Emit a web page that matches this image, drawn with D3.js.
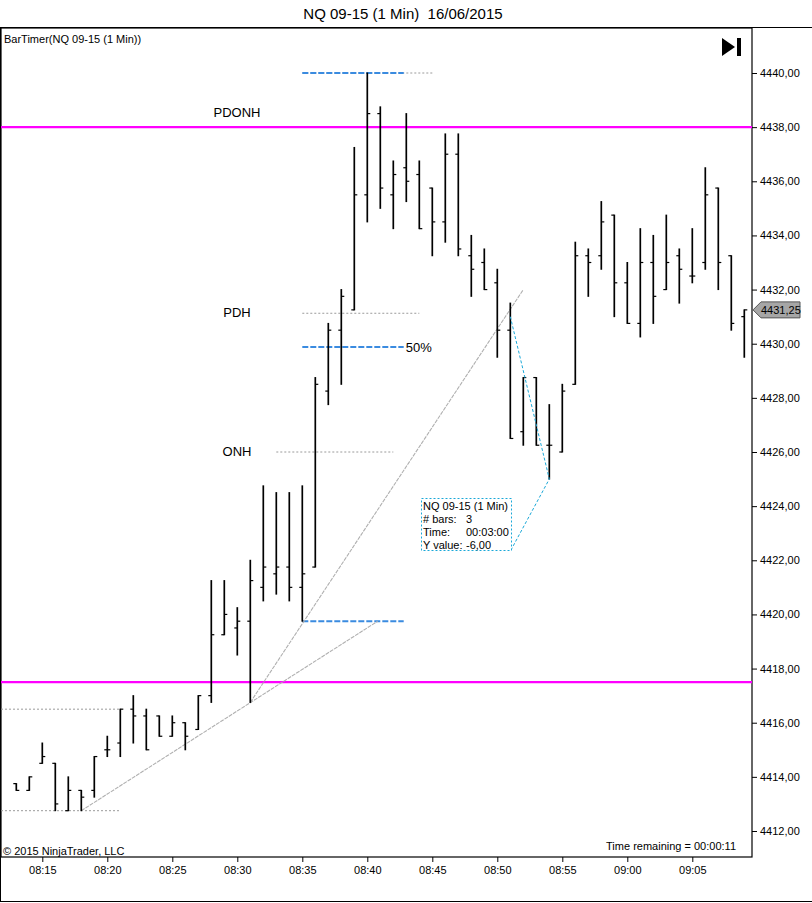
<!DOCTYPE html>
<html>
<head>
<meta charset="utf-8">
<script src="https://cdn.jsdelivr.net/npm/d3@7"></script>
<style>
  body { margin: 0; background: #fff; }
  svg { display: block; font-family: "Liberation Sans", Arial, sans-serif; }
</style>
</head>
<body>
<svg id="chart" width="812" height="903"></svg>
<script>
"use strict";

// one-minute bars, 08:13 .. 09:09
var times = ["08:13","08:14","08:15","08:16","08:17","08:18","08:19","08:20","08:21","08:22",
             "08:23","08:24","08:25","08:26","08:27","08:28","08:29","08:30","08:31","08:32",
             "08:33","08:34","08:35","08:36","08:37","08:38","08:39","08:40","08:41","08:42",
             "08:43","08:44","08:45","08:46","08:47","08:48","08:49","08:50","08:51","08:52",
             "08:53","08:54","08:55","08:56","08:57","08:58","08:59","09:00","09:01","09:02",
             "09:03","09:04","09:05","09:06","09:07","09:08","09:09"];
var opens  = [4413.75,4413.5,4414.5,4414.5,4412.75,4413.5,4413.5,4415.0,4415.25,4416.5,
              4416.25,4416.25,4415.5,4416.0,4415.75,4417.0,4419.25,4419.5,4419.75,4421.0,
              4421.5,4421.75,4421.0,4421.75,4428.25,4430.5,4431.25,4435.5,4438.5,4435.5,
              4436.5,4436.25,4435.75,4434.5,4437.0,4433.25,4433.0,4432.25,4430.5,4426.75,
              4428.75,4426.25,4426.0,4428.5,4433.25,4433.25,4434.75,4432.25,4430.75,4433.0,
              4432.0,4433.25,4432.5,4433.0,4435.75,4433.25,4431.0];
var highs  = [4413.75,4414.0,4415.25,4414.5,4414.0,4413.5,4414.75,4415.5,4416.5,4417.0,
              4416.5,4416.25,4416.25,4416.0,4417.0,4421.25,4421.25,4420.25,4422.0,4424.75,
              4424.5,4424.5,4424.75,4428.75,4430.75,4432.0,4437.25,4440.0,4438.75,4436.75,
              4438.5,4436.75,4435.75,4437.75,4437.75,4434.0,4433.5,4432.75,4431.5,4428.75,
              4428.75,4427.75,4428.5,4433.75,4433.5,4435.25,4434.75,4433.0,4434.25,4434.0,
              4434.75,4433.5,4434.25,4436.5,4435.75,4433.25,4431.25];
var lows   = [4413.5,4413.5,4414.5,4412.75,4412.75,4412.75,4413.25,4414.75,4414.75,4415.25,
              4415.0,4415.5,4415.5,4415.0,4415.75,4416.75,4419.25,4418.5,4416.75,4420.5,
              4420.75,4420.5,4419.75,4421.75,4427.75,4428.5,4431.25,4434.5,4435.0,4434.25,
              4435.25,4434.25,4433.25,4433.75,4433.25,4431.75,4432.0,4429.5,4426.5,4426.25,
              4426.25,4425.0,4426.0,4428.5,4431.75,4432.75,4431.0,4430.75,4430.25,4430.75,
              4432.0,4431.5,4432.25,4432.75,4432.0,4430.5,4429.5];
var closes = [4413.5,4414.0,4414.75,4413.0,4413.5,4413.25,4414.75,4415.0,4416.5,4416.25,
              4415.0,4415.5,4416.0,4415.5,4417.0,4419.25,4420.0,4419.75,4421.25,4421.75,
              4421.75,4421.0,4421.5,4428.5,4430.5,4431.75,4435.5,4438.5,4435.75,4436.25,
              4436.0,4434.25,4434.5,4437.0,4433.5,4432.75,4432.0,4430.5,4426.5,4428.75,
              4426.25,4426.25,4428.25,4433.25,4433.0,4434.5,4432.25,4430.75,4433.0,4431.75,
              4433.0,4432.75,4432.5,4435.5,4433.0,4430.75,4431.25];

var priceTicks = [4412,4414,4416,4418,4420,4422,4424,4426,4428,4430,4432,4434,4436,4438,4440];

// horizontal levels
var magentaLevels = [4438.0, 4417.5];
var levelNames  = ["PDONH", "PDH", "ONH"];
var levelPrices = [4438.0, 4431.125, 4426.0];
var fibLow = 4419.75, fibHigh = 4440.0;          // 08:35 low -> 08:40 high
var rangeHigh = 4416.5, rangeLow = 4412.75;       // opening range
var trendA = [["08:18", 4412.75], ["08:40.8", 4419.75]];
var trendB = [["08:31", 4416.75], ["08:52", 4432.0]];
var measure = [["08:51", 4431.0], ["08:54", 4425.0]];
var infoLines = [["NQ 09-15 (1 Min)", ""], ["# bars:", "3"], ["Time:", "00:03:00"], ["Y value:", "-6,00"]];

var svg = d3.select("#chart");
var L = 1, R = 752, T = 28, B = 857;

function tp(s) {
    var p = s.split(":");
    return new Date(2015, 5, 16, +p[0], 0, 0, Math.round(parseFloat(p[1]) * 60000));
}

var x = d3.scaleTime()
    .domain([tp("08:15"), tp("09:05")])
    .range([42.3, 692.3]);
var y = d3.scaleLinear()
    .domain([4412, 4440])
    .range([831, 73]);

var bars = times.map(function(t, i){
    return {t: tp(t), o: opens[i], h: highs[i], l: lows[i], c: closes[i]};
});

// frame
svg.append("line").attr("x1", 0).attr("x2", 812).attr("y1", T - 0.5).attr("y2", T - 0.5).attr("stroke", "#000");
svg.append("line").attr("x1", 0.5).attr("x2", 0.5).attr("y1", T).attr("y2", 901).attr("stroke", "#000");
svg.append("line").attr("x1", 0).attr("x2", 812).attr("y1", 901.5).attr("y2", 901.5).attr("stroke", "#000");
svg.append("rect").attr("x", L).attr("y", T).attr("width", R - L).attr("height", B - T)
    .attr("fill", "none").attr("stroke", "#000").attr("stroke-width", 1.2);

svg.append("text").attr("x", 403).attr("y", 19).attr("text-anchor", "middle")
    .attr("font-size", 15).style("white-space", "pre")
    .text("NQ 09-15 (1 Min)\u00a0 16/06/2015");

svg.append("defs").append("clipPath").attr("id", "plot")
    .append("rect").attr("x", L).attr("y", T).attr("width", R - L).attr("height", B - T);
var g = svg.append("g").attr("clip-path", "url(#plot)");

// axes
var yAxis = d3.axisRight(y).tickValues(priceTicks).tickSize(5).tickPadding(3)
    .tickFormat(function(d){ return d3.format(".2f")(d).replace(".", ","); });
svg.append("g").attr("transform", "translate(" + R + ",0)").call(yAxis)
    .call(function(a){ a.select(".domain").remove(); })
    .selectAll("text").attr("font-size", 11).attr("font-family", "Liberation Sans, Arial");

var xAxis = d3.axisBottom(x).ticks(d3.timeMinute.every(5)).tickSize(5).tickPadding(4)
    .tickFormat(d3.timeFormat("%H:%M"));
svg.append("g").attr("transform", "translate(0," + B + ")").call(xAxis)
    .call(function(a){ a.select(".domain").remove(); })
    .selectAll("text").attr("font-size", 11).attr("font-family", "Liberation Sans, Arial");

// magenta levels
g.selectAll("line.mag").data(magentaLevels).enter().append("line")
    .attr("x1", L).attr("x2", R)
    .attr("y1", function(d){ return y(d); }).attr("y2", function(d){ return y(d); })
    .attr("stroke", "#ff00ff").attr("stroke-width", 2.2);

// named levels (gray dotted)
var levelSpans = [[tp("08:35"), tp("08:45")], [tp("08:35"), tp("08:44")], [tp("08:33"), tp("08:42")]];
g.selectAll("line.lvl").data(levelPrices.slice(1)).enter().append("line")
    .attr("x1", function(d, i){ return x(levelSpans[i + 1][0]); })
    .attr("x2", function(d, i){ return x(levelSpans[i + 1][1]); })
    .attr("y1", function(d){ return y(d); }).attr("y2", function(d){ return y(d); })
    .attr("stroke", "#9a9a9a").attr("stroke-dasharray", "2,2");
g.selectAll("text.lvl").data(levelNames).enter().append("text")
    .attr("x", 237).attr("text-anchor", "middle")
    .attr("y", function(d, i){ return y(levelPrices[i]) + (i === 0 ? -10 : 4); })
    .attr("font-size", 13).text(function(d){ return d; });

// opening range
g.selectAll("line.rng").data([rangeHigh, rangeLow]).enter().append("line")
    .attr("x1", L).attr("x2", x(tp("08:21")))
    .attr("y1", function(d){ return y(d); }).attr("y2", function(d){ return y(d); })
    .attr("stroke", "#9a9a9a").attr("stroke-dasharray", "2,2");

// fib retracement
g.append("line").attr("x1", x(tp("08:35"))).attr("x2", x(tp("08:45.1")))
    .attr("y1", y(fibHigh)).attr("y2", y(fibHigh))
    .attr("stroke", "#9a9a9a").attr("stroke-dasharray", "2,2");
var fibLevels = [0, 0.5, 1];
g.selectAll("line.fib").data(fibLevels).enter().append("line")
    .attr("x1", x(tp("08:35"))).attr("x2", x(tp("08:42.8")))
    .attr("y1", function(d){ return y(fibLow + d * (fibHigh - fibLow)); })
    .attr("y2", function(d){ return y(fibLow + d * (fibHigh - fibLow)); })
    .attr("stroke", "#3a8be0").attr("stroke-width", 2).attr("stroke-dasharray", "6,2");
g.append("text").attr("x", x(tp("08:42.8")) + 2).attr("y", y((fibLow + fibHigh) / 2) + 5)
    .attr("font-size", 13).text("50%");

// trend lines
var line = d3.line().x(function(d){ return x(tp(d[0])); }).y(function(d){ return y(d[1]); });
[trendA, trendB].forEach(function(t){
    g.append("path").attr("d", line(t)).attr("fill", "none")
        .attr("stroke", "#b0b0b0").attr("stroke-width", 1.1).attr("stroke-dasharray", "4,1");
});

// OHLC bars
var bar = g.selectAll("g.bar").data(bars).enter().append("g").attr("class", "bar");
bar.append("line")
    .attr("x1", function(d){ return x(d.t); }).attr("x2", function(d){ return x(d.t); })
    .attr("y1", function(d){ return y(d.h) - 0.5; }).attr("y2", function(d){ return y(d.l) + 0.5; })
    .attr("stroke", "#000").attr("stroke-width", 1.7);
bar.append("line")
    .attr("x1", function(d){ return x(d.t) - 3; }).attr("x2", function(d){ return x(d.t); })
    .attr("y1", function(d){ return y(d.o); }).attr("y2", function(d){ return y(d.o); })
    .attr("stroke", "#000").attr("stroke-width", 1.2);
bar.append("line")
    .attr("x1", function(d){ return x(d.t); }).attr("x2", function(d){ return x(d.t) + 3; })
    .attr("y1", function(d){ return y(d.c); }).attr("y2", function(d){ return y(d.c); })
    .attr("stroke", "#000").attr("stroke-width", 1.2);

// measure tool
var bx = 421, by = 498, bw = 90, bh = 52;
var mp = [[x(tp(measure[0][0])), y(measure[0][1])],
          [x(tp(measure[1][0])), y(measure[1][1])],
          [bx + bw, by + bh]];
g.append("path").attr("d", d3.line()(mp)).attr("fill", "none")
    .attr("stroke", "#1aa8d8").attr("stroke-dasharray", "3,2");
g.append("rect").attr("x", bx + 0.5).attr("y", by + 0.5).attr("width", bw).attr("height", bh)
    .attr("fill", "#fff").attr("stroke", "#1aa8d8").attr("stroke-dasharray", "2,2");
var info = g.selectAll("g.info").data(infoLines).enter().append("g");
info.append("text").attr("x", bx + 2).attr("y", function(d, i){ return by + 12 + i * 13; })
    .attr("font-size", 11).text(function(d){ return d[0]; });
info.append("text").attr("x", bx + 45).attr("y", function(d, i){ return by + 12 + i * 13; })
    .attr("font-size", 11).text(function(d){ return d[1]; });

// texts in the plot
svg.append("text").attr("x", 4).attr("y", 43).attr("font-size", 11).text("BarTimer(NQ 09-15 (1 Min))");
svg.append("text").attr("x", 3).attr("y", 855).attr("font-size", 11).text("\u00a9 2015 NinjaTrader, LLC");
svg.append("text").attr("x", 736).attr("y", 850).attr("text-anchor", "end")
    .attr("font-size", 11).text("Time remaining = 00:00:11");

// play-to-end icon
svg.append("path").attr("d", "M722,38 L735,47 L722,56 Z").attr("fill", "#000");
svg.append("rect").attr("x", 737).attr("y", 38).attr("width", 4).attr("height", 18).attr("fill", "#000");

// last price marker
var last = closes[closes.length - 1], ly = y(last);
svg.append("path")
    .attr("d", "M" + (R + 1) + "," + ly + " L" + (R + 9) + "," + (ly - 8) + " L800," + (ly - 8) +
               " L800," + (ly + 8) + " L" + (R + 9) + "," + (ly + 8) + " Z")
    .attr("fill", "#a6a6a6").attr("stroke", "#555");
svg.append("text").attr("x", 761).attr("y", ly + 4).attr("font-size", 11)
    .text(d3.format(".2f")(last).replace(".", ","));
</script>
</body>
</html>
